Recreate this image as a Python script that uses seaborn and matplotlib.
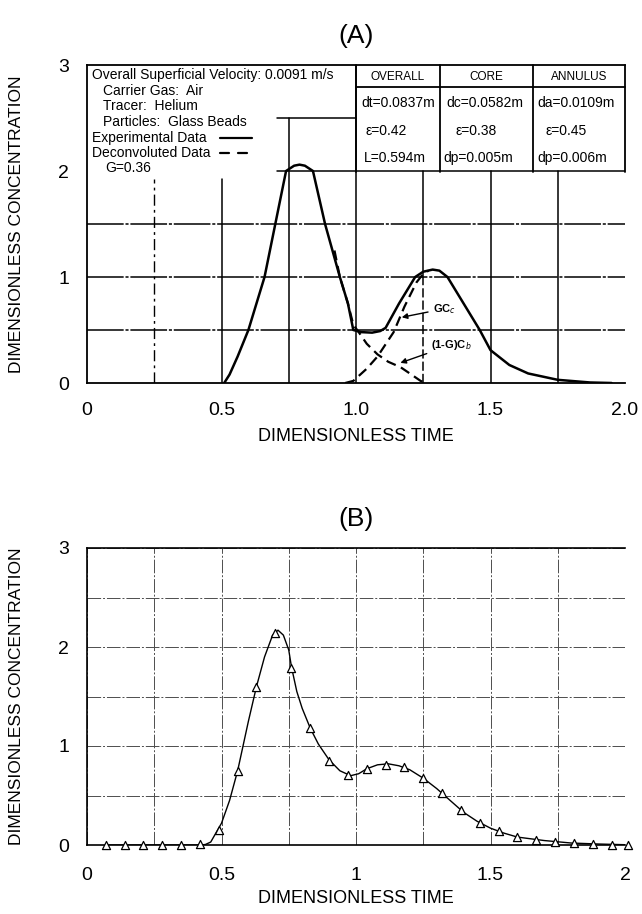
import matplotlib
matplotlib.use("Agg")
import matplotlib.pyplot as plt
from matplotlib.lines import Line2D
import pandas as pd
import seaborn as sns

# ---------------- data: panel A ----------------
exp_t = [0.51, 0.53, 0.56, 0.60, 0.63, 0.66, 0.70, 0.74, 0.77, 0.79, 0.81, 0.84,
         0.885, 0.94, 0.97, 0.99, 1.02, 1.06, 1.09, 1.11, 1.16, 1.22, 1.25, 1.285,
         1.31, 1.34, 1.40, 1.46, 1.50, 1.57, 1.64, 1.75, 1.87, 1.95]
exp_c = [0.0, 0.08, 0.25, 0.50, 0.75, 1.00, 1.50, 2.00, 2.05, 2.06, 2.05, 2.00,
         1.50, 1.00, 0.75, 0.50, 0.48, 0.475, 0.49, 0.52, 0.75, 1.00, 1.05, 1.07,
         1.06, 1.00, 0.75, 0.50, 0.31, 0.17, 0.09, 0.03, 0.005, 0.0]

cb_t = [0.92, 0.94, 0.97, 0.99, 1.01, 1.04, 1.08, 1.12, 1.165, 1.20, 1.24, 1.26]
cb_c = [1.25, 1.00, 0.75, 0.55, 0.48, 0.37, 0.27, 0.20, 0.15, 0.09, 0.02, 0.0]

cc_t = [0.96, 0.99, 1.04, 1.08, 1.14, 1.18, 1.225, 1.25, 1.27]
cc_c = [0.0, 0.02, 0.135, 0.25, 0.48, 0.72, 0.95, 1.03, 1.06]

legend_lines = ["Overall Superficial Velocity: 0.0091 m/s",
                "Carrier Gas:  Air",
                "Tracer:  Helium",
                "Particles:  Glass Beads",
                "Experimental Data",
                "Deconvoluted Data",
                "G=0.36"]
table_header = ["OVERALL", "CORE", "ANNULUS"]
table_rows = [["dt=0.0837m", "dc=0.0582m", "da=0.0109m"],
              ["\u03b5=0.42", "\u03b5=0.38", "\u03b5=0.45"],
              ["L=0.594m", "dp=0.005m", "dp=0.006m"]]

# ---------------- data: panel B ----------------
pts_t = [0.07, 0.14, 0.21, 0.28, 0.35, 0.42, 0.49, 0.56, 0.63, 0.70, 0.76, 0.83,
         0.90, 0.97, 1.04, 1.11, 1.18, 1.25, 1.32, 1.39, 1.46, 1.53, 1.60, 1.67,
         1.74, 1.81, 1.88, 1.95, 2.01]
pts_c = [0.0, 0.0, 0.0, 0.0, 0.0, 0.01, 0.15, 0.75, 1.60, 2.14, 1.79, 1.18,
         0.85, 0.71, 0.77, 0.81, 0.79, 0.675, 0.525, 0.35, 0.22, 0.14, 0.08, 0.05,
         0.035, 0.02, 0.01, 0.005, 0.0]

fit_t = [0.07, 0.42, 0.44, 0.46, 0.50, 0.53, 0.56, 0.60, 0.63, 0.66, 0.69, 0.71,
         0.73, 0.75, 0.76, 0.78, 0.80, 0.83, 0.86, 0.90, 0.94, 0.98, 1.01, 1.04,
         1.08, 1.12, 1.16, 1.20, 1.25, 1.30, 1.35, 1.40, 1.45, 1.50, 1.55, 1.60,
         1.70, 1.80, 1.90, 2.0]
fit_c = [0.0, 0.0, 0.005, 0.03, 0.22, 0.45, 0.75, 1.25, 1.60, 1.90, 2.12, 2.17,
         2.12, 1.97, 1.80, 1.55, 1.38, 1.18, 1.02, 0.86, 0.75, 0.70, 0.72, 0.77,
         0.81, 0.82, 0.80, 0.76, 0.675, 0.57, 0.45, 0.33, 0.24, 0.17, 0.12, 0.08,
         0.045, 0.02, 0.01, 0.003]

x_ticks_a = [0, 0.5, 1.0, 1.5, 2.0]
x_labels_a = ["0", "0.5", "1.0", "1.5", "2.0"]
x_ticks_b = [0, 0.5, 1, 1.5, 2]
x_labels_b = ["0", "0.5", "1", "1.5", "2"]
y_ticks = [0, 1, 2, 3]

# ---------------- style ----------------
sns.set_theme(style="white")
plt.rcParams['font.family'] = ['Liberation Sans', 'DejaVu Sans']
plt.rcParams['axes.edgecolor'] = 'black'
plt.rcParams['text.color'] = 'black'
plt.rcParams['axes.labelcolor'] = 'black'
plt.rcParams['xtick.color'] = 'black'
plt.rcParams['ytick.color'] = 'black'

W, H = 642, 914
fig = plt.figure(figsize=(W / 100, H / 100), dpi=100)


def fx(px):
    return px / W


def fy(py):
    return 1 - py / H


def fig_line(x0, y0, x1, y1, **kw):
    fig.add_artist(Line2D([fx(x0), fx(x1)], [fy(y0), fy(y1)], transform=fig.transFigure,
                          color='black', **kw))


TICK_FS = 14
LAB_FS = 13

# ================= Panel A =================
A_L, A_R, A_T, A_B = 87, 625, 65, 383
axA = fig.add_axes([fx(A_L), fy(A_B), fx(A_R) - fx(A_L), fy(A_T) - fy(A_B)])
axA.set_xlim(0, 2.0)
axA.set_ylim(0, 3.0)

# partial grid (as in the original drawing)
glw = 1.1
hstyle = (0, (24, 1.2, 2, 1.2))
for yv in (0.5, 1.0, 1.5):
    axA.plot([0, 2.0], [yv, yv], color='black', lw=glw, ls=hstyle, zorder=1)
axA.plot([0.706, 2.0], [2.0, 2.0], color='black', lw=glw, zorder=1)
axA.plot([0.706, 1.0], [2.5, 2.5], color='black', lw=glw, zorder=1)
axA.plot([0.25, 0.25], [0, 1.92], color='black', lw=1.0, ls=(0, (8, 3, 2, 3)), zorder=1)
axA.plot([0.5, 0.5], [0, 1.92], color='black', lw=glw, zorder=1)
axA.plot([0.75, 0.75], [0, 2.5], color='black', lw=glw, zorder=1)
axA.plot([1.0, 1.0], [0, 3.0], color='black', lw=glw, zorder=1)
axA.plot([1.25, 1.25], [1.0, 2.0], color='black', lw=glw, zorder=1)
axA.plot([1.25, 1.25], [0, 1.0], color='black', lw=glw, ls=(0, (6, 2)), zorder=1)
for xv in (1.5, 1.75):
    axA.plot([xv, xv], [0, 2.0], color='black', lw=glw, zorder=1)

dfA = pd.DataFrame({"t": exp_t, "c": exp_c})
sns.lineplot(data=dfA, x="t", y="c", ax=axA, color='black', lw=1.8, sort=False, zorder=3)
dash = (0, (4.5, 2.6))
sns.lineplot(x=cb_t, y=cb_c, ax=axA, color='black', lw=1.6, sort=False, zorder=3,
             linestyle=dash)
sns.lineplot(x=cc_t, y=cc_c, ax=axA, color='black', lw=1.6, sort=False, zorder=3,
             linestyle=dash)

axA.annotate("GC$_c$", xy=(1.17, 0.62), xytext=(1.285, 0.70), fontsize=8,
             fontweight='bold', va='center', ha='left',
             arrowprops=dict(arrowstyle='-|>', color='black', lw=1.0,
                             mutation_scale=8, shrinkA=1, shrinkB=0))
axA.annotate("(1-G)C$_b$", xy=(1.165, 0.19), xytext=(1.28, 0.36), fontsize=8,
             fontweight='bold', va='center', ha='left',
             arrowprops=dict(arrowstyle='-|>', color='black', lw=1.0,
                             mutation_scale=8, shrinkA=1, shrinkB=0))

for s in ('left', 'bottom', 'top'):
    axA.spines[s].set_visible(True)
    axA.spines[s].set_linewidth(1.3)
    axA.spines[s].set_color('black')
axA.spines['right'].set_visible(False)
axA.set_xticks(x_ticks_a)
axA.set_xticklabels(x_labels_a)
axA.set_yticks(y_ticks)
axA.set_yticklabels([str(v) for v in y_ticks])
axA.tick_params(axis='y', length=0, labelsize=TICK_FS, pad=13)
axA.tick_params(axis='x', length=0, labelsize=TICK_FS, pad=14)
axA.set_xlabel("DIMENSIONLESS TIME", fontsize=LAB_FS)
axA.set_ylabel("DIMENSIONLESS CONCENTRATION", fontsize=12.5)
axA.yaxis.set_label_coords((24 - A_L) / (A_R - A_L), 0.5)
axA.xaxis.set_label_coords(0.5, (A_B - 428) / (A_B - A_T))
axA.set_title("(A)", fontsize=19, pad=16)
axA.grid(False)

# legend text block
leg_pos = [(92, 75), (103, 91), (103, 106), (103, 122), (92, 138), (92, 153), (105, 168)]
for txt, (px, py) in zip(legend_lines, leg_pos):
    fig.text(fx(px), fy(py), txt, fontsize=10, ha='left', va='center')
fig_line(220, 138, 252, 138, lw=1.6)
fig_line(220, 153, 229, 153, lw=1.6)
fig_line(238, 153, 247, 153, lw=1.6)

# parameter table
T_L, T_R, T_T, T_B, T_H = 356, A_R, 65, 172, 87
col_x = [T_L, 440, 533, T_R]
fig_line(T_L, T_T, T_L, T_B, lw=1.3)
fig_line(T_R, T_T, T_R, T_B, lw=1.3)
fig_line(440, T_T, 440, T_B, lw=1.3)
fig_line(533, T_T, 533, T_B, lw=1.3)
fig_line(T_L, T_H, T_R, T_H, lw=1.3)
for i, h in enumerate(table_header):
    fig.text(fx((col_x[i] + col_x[i + 1]) / 2), fy(77), h, fontsize=8.5,
             ha='center', va='center')
row_y = [103, 131, 158]
cell_x = [[361, 446, 537], [366, 455, 546], [364, 443, 537]]
for r, row in enumerate(table_rows):
    for c, txt in enumerate(row):
        fig.text(fx(cell_x[r][c]), fy(row_y[r]), txt, fontsize=10, ha='left', va='center')

# ================= Panel B =================
B_L, B_R, B_T, B_B = 87, 625, 548, 845
axB = fig.add_axes([fx(B_L), fy(B_B), fx(B_R) - fx(B_L), fy(B_T) - fy(B_B)])
axB.set_xlim(0, 2.0)
axB.set_ylim(0, 3.0)
axB.set_xticks(x_ticks_b)
axB.set_xticklabels(x_labels_b)
axB.set_xticks([0.25, 0.75, 1.25, 1.75], minor=True)
axB.set_yticks(y_ticks)
axB.set_yticklabels([str(v) for v in y_ticks])
axB.set_yticks([0.5, 1.5, 2.5], minor=True)
axB.grid(True, which='both', color='0.3', lw=0.7, ls=(0, (14, 2, 2, 2)))
axB.set_axisbelow(True)

sns.lineplot(x=fit_t, y=fit_c, ax=axB, color='black', lw=1.0, sort=False, zorder=3)
sns.scatterplot(x=pts_t, y=pts_c, ax=axB, marker='^', s=34, facecolor='white',
                edgecolor='black', linewidth=0.9, zorder=4, clip_on=False)

for s in ('left', 'bottom', 'top'):
    axB.spines[s].set_visible(True)
    axB.spines[s].set_linewidth(1.2)
    axB.spines[s].set_color('black')
axB.spines['right'].set_visible(False)
axB.tick_params(axis='both', which='major', direction='out', length=6, width=1,
                labelsize=TICK_FS, pad=7)
axB.tick_params(axis='both', which='minor', length=0)
axB.tick_params(axis='x', which='major', pad=10)
axB.set_xlabel("DIMENSIONLESS TIME", fontsize=LAB_FS)
axB.set_ylabel("DIMENSIONLESS CONCENTRATION", fontsize=12.5)
axB.yaxis.set_label_coords((24 - B_L) / (B_R - B_L), 0.5)
axB.xaxis.set_label_coords(0.5, (B_B - 890) / (B_B - B_T))
axB.set_title("(B)", fontsize=19, pad=16)

fig.savefig("out.png", dpi=100, facecolor='white')
